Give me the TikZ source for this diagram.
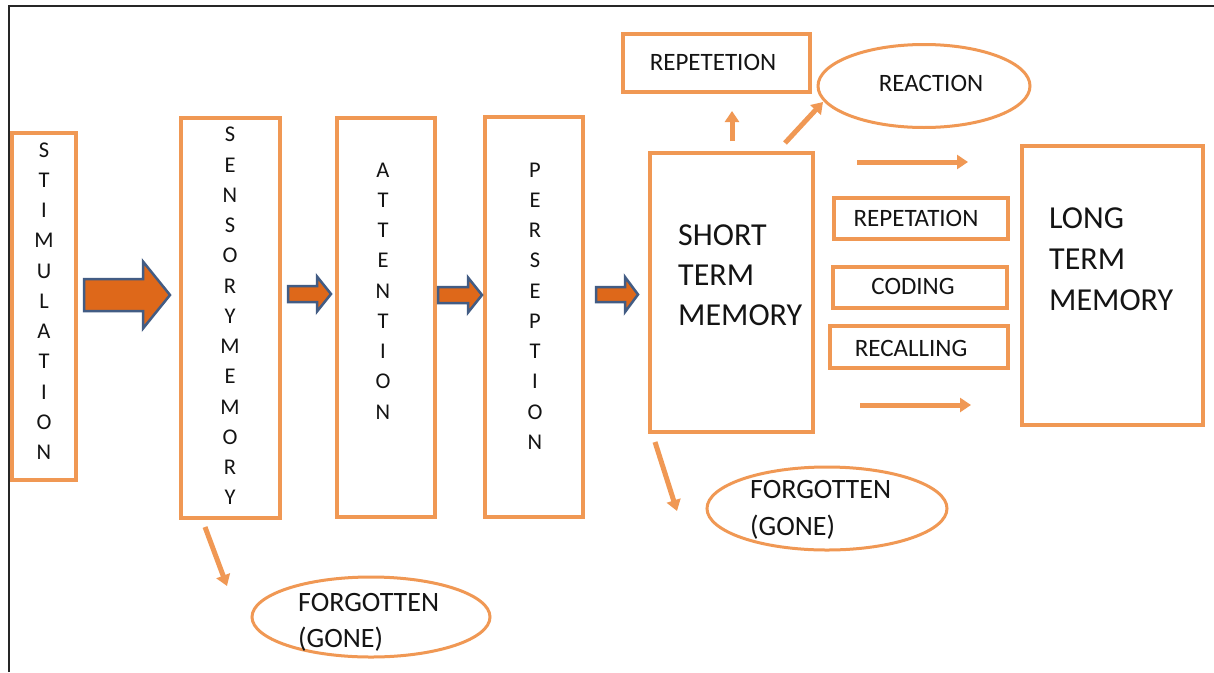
\documentclass[tikz,border=0pt]{standalone}
\usepackage{fontspec}
\setmainfont{Carlito}
\usetikzlibrary{shapes.geometric,arrows.meta}
\definecolor{boxor}{RGB}{240,152,84}
\definecolor{arrfill}{RGB}{222,104,26}
\definecolor{arrline}{RGB}{66,92,132}
\definecolor{txt}{RGB}{20,20,20}
\newcommand{\blkarrow}[6]{%
  \filldraw[blk] (#1,#3-#4) -- (#2-#6,#3-#4) -- (#2-#6,#3-#5) -- (#2,#3) --
    (#2-#6,#3+#5) -- (#2-#6,#3+#4) -- (#1,#3+#4) -- cycle;}
\begin{document}
\begin{tikzpicture}[x=1pt,y=-1pt,
  box/.style={draw=boxor,line width=4pt,rectangle,inner sep=0pt},
  ell/.style={draw=boxor,line width=3pt,ellipse,inner sep=0pt},
  vtext/.style={text=txt,align=center,inner sep=0pt,font=\fontsize{22.5}{30.25}\selectfont},
  bigtext/.style={text=txt,align=left,inner sep=0pt,anchor=north west},
  midtext/.style={text=txt,inner sep=0pt,font=\fontsize{25}{30}\selectfont},
  thin/.style={draw=boxor,line width=5pt,-{Triangle[width=14pt,length=11pt]}},
  blk/.style={fill=arrfill,draw=arrline,line width=2.5pt,line join=miter}]
\useasboundingbox (0,0) rectangle (1214,672);
\fill[white] (0,0) rectangle (1214,672);
% frame
\draw[line width=2.2pt,black!85] (9,672) -- (9,6) -- (1214,6);

% boxes
\node[box,minimum width=64pt,minimum height=347pt] (stim) at (44,306.5) {};
\node[vtext] (stimt) at (44,301) {S\\T\\I\\M\\U\\L\\A\\T\\I\\O\\N};

\node[box,minimum width=99pt,minimum height=400pt] (sens) at (230.5,318) {};
\node[vtext] (senst) at (230,316) {S\\E\\N\\S\\O\\R\\Y\\M\\E\\M\\O\\R\\Y};

\node[box,minimum width=98pt,minimum height=399pt] (att) at (386,317.5) {};
\node[vtext] (attt) at (383,291) {A\\T\\T\\E\\N\\T\\I\\O\\N};

\node[box,minimum width=98pt,minimum height=400pt] (per) at (534,317) {};
\node[vtext] (pert) at (535,306) {P\\E\\R\\S\\E\\P\\T\\I\\O\\N};

\node[box,minimum width=163pt,minimum height=279pt] (stm) at (731.5,292.5) {};
\node[bigtext,font=\fontsize{32}{40}\selectfont] (stmt) at (678,224.5) {SHORT\\TERM\\MEMORY};

\node[box,minimum width=181pt,minimum height=279pt] (ltm) at (1112.5,285.5) {};
\node[bigtext,font=\fontsize{32}{41}\selectfont] (ltmt) at (1049,207.5) {LONG\\TERM\\MEMORY};

\node[box,minimum width=187pt,minimum height=58pt] (rep1) at (716.5,63) {};
\node[midtext] (rep1t) at (713,62) {REPETETION};

\node[ell,minimum width=212pt,minimum height=83pt] (react) at (924,86) {};
\node[midtext] (reactt) at (931,83.5) {REACTION};

\node[box,minimum width=174pt,minimum height=41pt] (rep2) at (921,218.5) {};
\node[midtext] (rep2t) at (916,218.5) {REPETATION};

\node[box,minimum width=174pt,minimum height=41pt] (cod) at (920,287.5) {};
\node[midtext] (codt) at (913,286.5) {CODING};

\node[box,minimum width=178pt,minimum height=42pt] (rec) at (919,347) {};
\node[midtext] (rect) at (911,348) {RECALLING};

\node[ell,minimum width=238pt,minimum height=80pt] (forg1) at (371,617) {};
\node[bigtext,font=\fontsize{28}{36}\selectfont] (forg1t) at (298,593) {FORGOTTEN\\(GONE)};

\node[ell,minimum width=240pt,minimum height=83pt] (forg2) at (827,508.5) {};
\node[bigtext,font=\fontsize{28}{37}\selectfont] (forg2t) at (750,480) {FORGOTTEN\\(GONE)};

% block arrows
\blkarrow{84}{170}{295}{16}{33.5}{27}
\blkarrow{288}{331}{294}{8}{17.5}{14}
\blkarrow{438}{482}{295}{8}{17.5}{14}
\blkarrow{596}{638}{294.5}{7.5}{17.5}{13}

% thin arrows
\coordinate (a1s) at (205,527); \coordinate (a1e) at (227,586);
\coordinate (a2s) at (655,442); \coordinate (a2e) at (677,511);
\coordinate (a3s) at (732,141); \coordinate (a3e) at (732,111);
\coordinate (a4s) at (785,143); \coordinate (a4e) at (823,102);
\coordinate (a5s) at (857,162); \coordinate (a5e) at (968,162);
\coordinate (a6s) at (860,405); \coordinate (a6e) at (971,405);
\draw[thin] (a1s) -- (a1e);
\draw[thin] (a2s) -- (a2e);
\draw[thin] (a3s) -- (a3e);
\draw[thin] (a4s) -- (a4e);
\draw[thin] (a5s) -- (a5e);
\draw[thin] (a6s) -- (a6e);
\end{tikzpicture}
\end{document}
